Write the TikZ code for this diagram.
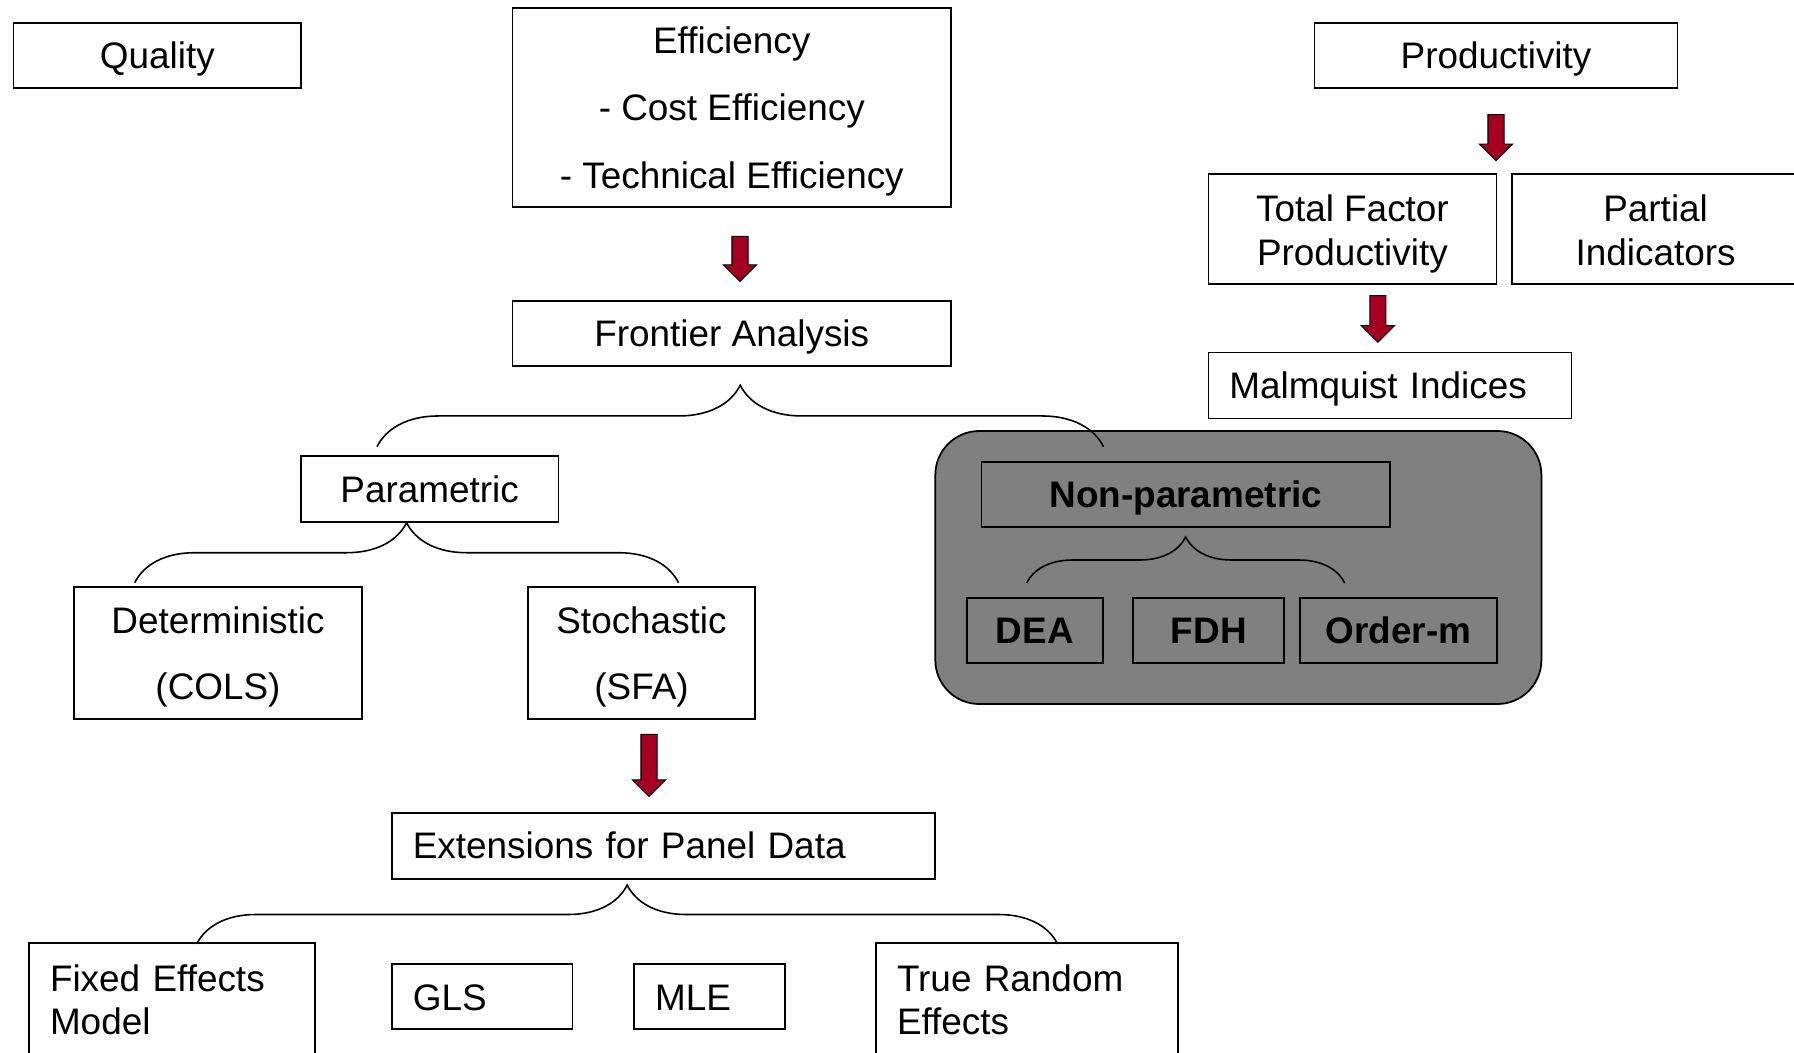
\documentclass[tikz,border=0pt]{standalone}
\usepackage{fontspec}
\setmainfont{Liberation Sans}
\usetikzlibrary{positioning}
\usetikzlibrary{shapes.arrows}
\usetikzlibrary{decorations.pathreplacing}
\definecolor{arrowred}{RGB}{165,0,33}
\definecolor{groupgray}{RGB}{128,128,128}
\newcommand*{\diagfont}{\fontsize{21pt}{24.9pt}\selectfont}
\newcommand*{\toprule}[1]{\rule{0pt}{#1}}

\tikzset{
  box/.style={draw, line width=1pt, inner sep=0pt, font=\diagfont, align=center},
  oneline/.style={box, text height=15.1pt, text depth=0pt},
  padded/.style={oneline, text width=#1, align=left, inner xsep=0.42cm},
  curly/.style={decorate, line width=0.9pt, decoration={brace, amplitude=#1}},
  redarrow/.style={single arrow, draw, fill=arrowred, line width=0.6pt,
    minimum width=0.64cm, inner sep=0.15cm, single arrow head extend=0.17cm,
    minimum height=#1, shape border rotate=270},
  redarrow/.default=0.9cm
}

\begin{document}
\begin{tikzpicture}
\useasboundingbox (0,0) rectangle (35.88,-21.04);

 % Quality
 \node[oneline, minimum width=5.75cm, minimum height=1.312cm] (quality) at (3.146,-1.11) {Quality};

 % Efficiency
\node [box,
    minimum width=8.77cm,
    minimum height=3.98cm
] (eff) at (14.635,-2.156) {\toprule{19.2pt}Efficiency\\[13.35pt]- Cost Efficiency\\[13.35pt]- Technical Efficiency};

\node [oneline,
    minimum width=8.77cm,
    minimum height=1.3cm,
    below=1.834cm of eff
] (frontier) {Frontier Analysis};

\node[redarrow, below=0.554cm of eff, xshift=0.165cm] (arr1) {};

% Productivity
\node [oneline,
    minimum width=7.26cm,
    minimum height=1.312cm
] (prod) at (29.92,-1.11) {Productivity};

\node [box,
    minimum width=5.76cm,
    minimum height=2.206cm
] (tfp) at (27.048,-4.583) {\toprule{20.5pt}Total Factor\\Productivity};

\node [box,
    minimum width=5.73cm,
    minimum height=2.206cm,
    right=0.284cm of tfp
] (partial) {\toprule{16.4pt}Partial\\Indicators};

\node [padded=6.424cm,
    minimum height=1.32cm,
    below right=1.328cm and 0cm of tfp.south west
] (malm) {Malmquist Indices};

\node[redarrow=0.92cm, below=0.5cm of prod] (arr2) {};
\node[redarrow=0.93cm, below=0.2cm of tfp, xshift=0.508cm] (arr3) {};

% Parametric
\node [oneline,
    minimum width=5.156cm,
    minimum height=1.332cm
] (param) at (8.592,-9.78) {Parametric};

\node [box,
    minimum width=5.76cm,
    minimum height=2.646cm
] (determ) at (4.36,-13.057) {\toprule{20pt}Deterministic\\[13pt](COLS)};

\node [box,
    minimum width=4.54cm,
    minimum height=2.646cm
] (stoch) at (12.83,-13.057) {\toprule{20pt}Stochastic\\[13pt](SFA)};

\node[redarrow=1.24cm, below=0.28cm of stoch, xshift=0.15cm] (arr4) {};

% Non-parametric group
\node [draw,
    line width=1pt,
    fill=groupgray,
    rounded corners=0.88cm,
    minimum width=12.122cm,
    minimum height=5.46cm
] (group) at (24.767,-11.35) {};

\node [oneline,
    font=\diagfont\bfseries,
    minimum width=8.176cm,
    minimum height=1.312cm
] (nonpar) at (23.718,-9.89) {Non-parametric};

\node[oneline, font=\diagfont\bfseries, minimum width=2.726cm, minimum height=1.312cm] (dea) at (20.697,-12.61) {DEA};
\node[oneline, font=\diagfont\bfseries, minimum width=3.022cm, minimum height=1.312cm, right=0.57cm of dea] (fdh) {FDH};
\node[oneline, font=\diagfont\bfseries, minimum width=3.936cm, minimum height=1.312cm, right=0.28cm of fdh] (orderm) {Order-m};

% Panel data
\node [padded=10.028cm,
    minimum height=1.32cm
] (panel) at (13.27,-16.914) {Extensions for Panel Data};

\node [box,
    text width=4.886cm,
    align=left,
    inner xsep=0.42cm,
    minimum height=2.26cm
] (fixed) at (3.443,-19.997) {Fixed Effects\\Model};

\node [padded=2.772cm, minimum height=1.3cm] (gls) at (9.642,-19.936) {GLS};
\node [padded=2.174cm, minimum height=1.3cm, right=1.2cm of gls] (mle) {MLE};

\node [box,
    text width=5.2cm,
    align=left,
    inner xsep=0.42cm,
    minimum height=2.26cm
] (trueran) at (20.54,-19.997) {True Random\\Effects};

% braces
\coordinate (fbL) at (7.54,-8.934);
\coordinate (fbR) at (22.07,-8.934);
\coordinate (pbL) at (2.694,-11.654);
\coordinate (pbR) at (13.57,-11.654);
\coordinate (nbL) at (20.532,-11.66);
\coordinate (nbR) at (26.894,-11.66);
\coordinate (ebL) at (3.934,-18.88);
\coordinate (ebR) at (21.152,-18.88);

\draw[curly=1.23cm] (fbL) -- (fbR);
\draw[curly=1.2cm] (pbL) -- (pbR);
\draw[curly=0.92cm] (nbL) -- (nbR);
\draw[curly=1.18cm] (ebL) -- (ebR);
\end{tikzpicture}
\end{document}
